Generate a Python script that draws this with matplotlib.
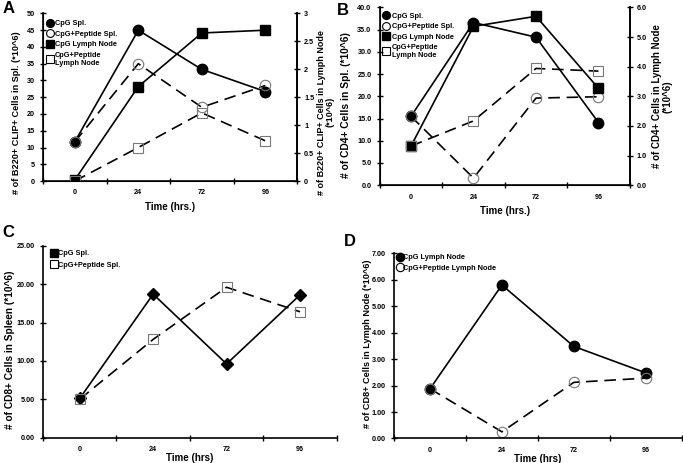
import matplotlib.pyplot as plt
from matplotlib.ticker import FixedLocator, FormatStrFormatter, MultipleLocator

plt.rcParams['font.family'] = ['Liberation Sans', 'DejaVu Sans']
plt.rcParams['font.weight'] = 'bold'

times = ['0', '24', '72', '96']

# panel A: B220+ CLIP+ cells
a_cpg_spl = [11.7, 45.0, 33.3, 26.7]
a_pep_spl = [11.7, 35.0, 22.0, 28.5]
a_cpg_ln = [0.02, 1.69, 2.65, 2.70]
a_pep_ln = [0.0, 0.60, 1.22, 0.72]

# panel B: CD4+ cells
b_cpg_spl = [15.5, 36.6, 33.3, 14.1]
b_pep_spl = [15.5, 1.6, 19.6, 19.9]
b_cpg_ln = [1.32, 5.36, 5.70, 3.27]
b_pep_ln = [1.32, 2.17, 3.94, 3.85]

# panel C: CD8+ cells in spleen
c_cpg_spl = [5.1, 18.7, 9.6, 18.6]
c_pep_spl = [5.0, 12.8, 19.6, 16.4]

# panel D: CD8+ cells in lymph node
d_cpg_ln = [1.88, 5.80, 3.48, 2.48]
d_pep_ln = [1.88, 0.25, 2.12, 2.28]

fig = plt.figure(figsize=(6.83, 4.63), dpi=100)

solid = dict(color='black', lw=1.2, markersize=7.5, markerfacecolor='black', markeredgecolor='black')
dashed = dict(color='black', lw=1.2, ls=(0, (7, 4)), markersize=7.5,
              markerfacecolor='none', markeredgecolor='#777777', markeredgewidth=0.8)
tick_fs = 5.2


def style_x(ax, right_spine=False):
    ax.set_xlim(-0.5, len(times) - 0.5)
    ax.xaxis.set_major_locator(FixedLocator([i - 0.5 for i in range(len(times) + 1)]))
    ax.xaxis.set_minor_locator(FixedLocator(list(range(len(times)))))
    ax.set_xticklabels([], minor=False)
    ax.set_xticklabels(times, minor=True)
    ax.tick_params(axis='x', which='major', direction='inout', length=5, width=1)
    ax.tick_params(axis='x', which='minor', length=0, labelsize=tick_fs, pad=6)
    ax.tick_params(axis='y', direction='inout', length=4, width=1, labelsize=tick_fs, pad=4)
    ax.spines['top'].set_visible(False)
    ax.spines['right'].set_visible(right_spine)
    for s in ['left', 'bottom', 'right']:
        ax.spines[s].set_linewidth(1.2)


def style_right(ax2):
    ax2.tick_params(axis='y', direction='inout', length=4, width=1, labelsize=tick_fs, pad=3)
    ax2.spines['top'].set_visible(False)
    ax2.spines['right'].set_linewidth(1.2)


def no_lines(leg):
    for h in leg.legend_handles:
        h.set_linestyle('none')
        if h.get_markerfacecolor() == 'none':
            h.set_markeredgecolor('black')


x = list(range(len(times)))
leg_kw = dict(loc='upper left', frameon=False, fontsize=5.3, handlelength=0.4, handletextpad=0.5,
              labelspacing=0.45, borderaxespad=0.3, markerscale=0.75)

# ---- A ----
axA = fig.add_axes([0.063, 0.609, 0.372, 0.362])
axA2 = axA.twinx()
la, = axA.plot(x, a_cpg_spl, marker='o', **solid, zorder=3)
lb, = axA.plot(x, a_pep_spl, marker='o', **dashed, zorder=3)
lc, = axA2.plot(x, a_cpg_ln, marker='s', **solid)
ld, = axA2.plot(x, a_pep_ln, marker='s', **dashed)
style_x(axA, right_spine=True)
style_right(axA2)
axA.set_ylim(0, 50)
axA.yaxis.set_major_locator(MultipleLocator(5))
axA2.set_ylim(0, 3)
axA2.yaxis.set_major_locator(MultipleLocator(0.5))
axA2.yaxis.set_major_formatter(FormatStrFormatter('%g'))
axA.set_xlabel('Time (hrs.)', fontsize=7, fontweight='bold')
axA.set_ylabel('# of B220+ CLIP+ Cells in Spl. (*10^6)', fontsize=6.6, fontweight='bold')
axA.yaxis.set_label_coords(-0.085, 0.41)
axA2.set_ylabel('# of B220+ CLIP+ Cells in Lymph Node\n(*10^6)', fontsize=6.5, fontweight='bold',
                rotation=90, linespacing=1.0)
axA2.yaxis.set_label_coords(1.078, 0.41)
leg = axA.legend([la, lb, lc, ld], ['CpG Spl.', 'CpG+Peptide Spl.', 'CpG Lymph Node', 'CpG+Peptide\nLymph Node'],
                 bbox_to_anchor=(0.0, 0.99), **leg_kw)
no_lines(leg)

# ---- B ----
axB = fig.add_axes([0.556, 0.600, 0.366, 0.384])
axB2 = axB.twinx()
la, = axB.plot(x, b_cpg_spl, marker='o', **solid, zorder=3)
lb, = axB.plot(x, b_pep_spl, marker='o', **dashed, zorder=3)
lc, = axB2.plot(x, b_cpg_ln, marker='s', **solid)
ld, = axB2.plot(x, b_pep_ln, marker='s', **dashed)
style_x(axB, right_spine=True)
style_right(axB2)
axB.set_ylim(0, 40)
axB.yaxis.set_major_locator(MultipleLocator(5))
axB.yaxis.set_major_formatter(FormatStrFormatter('%.1f'))
axB2.set_ylim(0, 6)
axB2.yaxis.set_major_locator(MultipleLocator(1))
axB2.yaxis.set_major_formatter(FormatStrFormatter('%.1f'))
axB.set_xlabel('Time (hrs.)', fontsize=7, fontweight='bold')
axB.set_ylabel('# of CD4+ Cells in Spl. (*10^6)', fontsize=7.4, fontweight='bold')
axB.yaxis.set_label_coords(-0.115, 0.45)
axB2.set_ylabel('# of CD4+ Cells in Lymph Node\n(*10^6)', fontsize=7, fontweight='bold',
                rotation=90, linespacing=1.0)
axB2.yaxis.set_label_coords(1.09, 0.50)
leg = axB.legend([la, lb, lc, ld], ['CpG Spl.', 'CpG+Peptide Spl.', 'CpG Lymph Node', 'CpG+Peptide\nLymph Node'],
                 bbox_to_anchor=(0.0, 1.0), **leg_kw)
no_lines(leg)

# ---- C ----
axC = fig.add_axes([0.063, 0.055, 0.430, 0.414])
axC.plot(x, c_cpg_spl, marker='D', **{**solid, 'markersize': 6.5})
axC.plot(x, c_pep_spl, marker='s', **dashed)
style_x(axC)
axC.set_ylim(0, 25)
axC.yaxis.set_major_locator(MultipleLocator(5))
axC.yaxis.set_major_formatter(FormatStrFormatter('%.2f'))
axC.set_xlabel('Time (hrs)', fontsize=7, fontweight='bold', labelpad=0)
axC.set_ylabel('# of CD8+ Cells in Spleen (*10^6)', fontsize=7.3, fontweight='bold')
axC.yaxis.set_label_coords(-0.095, 0.46)
hC1 = plt.Line2D([], [], marker='s', ls='none', markersize=5.5, markerfacecolor='black', markeredgecolor='black')
hC2 = plt.Line2D([], [], marker='s', ls='none', markersize=5.5, markerfacecolor='none', markeredgecolor='black',
                 markeredgewidth=0.8)
axC.legend([hC1, hC2], ['CpG Spl.', 'CpG+Peptide Spl.'], loc='upper left', frameon=False, fontsize=5.3,
           handlelength=0.3, handletextpad=0.3, labelspacing=0.6, borderaxespad=0.2,
           bbox_to_anchor=(0.02, 1.0))

# ---- D ----
axD = fig.add_axes([0.577, 0.053, 0.421, 0.400])
axD.plot(x, d_cpg_ln, marker='o', **solid)
axD.plot(x, d_pep_ln, marker='o', **dashed)
style_x(axD)
axD.set_ylim(0, 7)
axD.yaxis.set_major_locator(MultipleLocator(1))
axD.yaxis.set_major_formatter(FormatStrFormatter('%.2f'))
axD.set_xlabel('Time (hrs)', fontsize=7, fontweight='bold', labelpad=0)
axD.set_ylabel('# of CD8+ Cells in Lymph Node (*10^6)', fontsize=6.6, fontweight='bold')
axD.yaxis.set_label_coords(-0.078, 0.51)
hD1 = plt.Line2D([], [], marker='o', ls='none', markersize=6, markerfacecolor='black', markeredgecolor='black')
hD2 = plt.Line2D([], [], marker='o', ls='none', markersize=6, markerfacecolor='none', markeredgecolor='black',
                 markeredgewidth=0.8)
axD.legend([hD1, hD2], ['CpG Lymph Node', 'CpG+Peptide Lymph Node'], loc='upper left', frameon=False,
           fontsize=5.3, handlelength=0.3, handletextpad=0.3, labelspacing=0.45, borderaxespad=0.2,
           bbox_to_anchor=(0.0, 1.02))

# panel letters
fig.text(0.004, 0.981, 'A', fontsize=12, fontweight='bold', va='center')
fig.text(0.493, 0.978, 'B', fontsize=12, fontweight='bold', va='center')
fig.text(0.004, 0.497, 'C', fontsize=12, fontweight='bold', va='center')
fig.text(0.503, 0.479, 'D', fontsize=12, fontweight='bold', va='center')

fig.savefig('out.png', dpi=100)
